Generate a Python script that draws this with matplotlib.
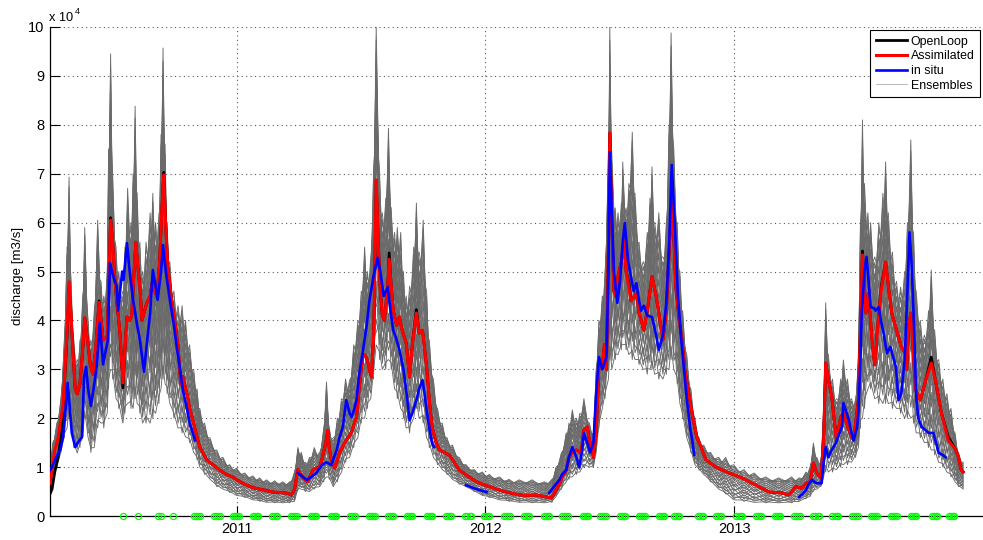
import numpy as np
import matplotlib
matplotlib.use("Agg")
import matplotlib.pyplot as plt
from matplotlib.ticker import FuncFormatter, MultipleLocator

plt.rcParams['font.family'] = ['Liberation Sans', 'DejaVu Sans']

# discharge in units of 1e4 m3/s, time in days since 2010-04-02
T0 = np.datetime64('2010-04-02')
SCALE = 1e4

assim_days = [0, 3, 7, 12, 16, 19, 22, 25, 28, 31,
              34, 37, 40, 44, 48, 51, 56, 59, 63, 67,
              72, 75, 78, 84, 86, 89, 92, 95, 98, 103,
              107, 110, 113, 117, 120, 123, 126, 129, 132, 135,
              139, 142, 147, 150, 154, 157, 161, 164, 167, 170,
              173, 177, 180, 185, 188, 192, 195, 199, 202, 205,
              210, 216, 220, 230, 239, 249, 259, 268, 279, 289,
              298, 308, 318, 327, 337, 347, 355, 359, 364, 368,
              372, 378, 383, 386, 391, 396, 400, 405, 408, 410,
              413, 418, 422, 425, 431, 435, 440, 443, 447, 450,
              454, 459, 462, 466, 469, 472, 475, 476, 479, 482,
              485, 488, 491, 496, 498, 501, 504, 509, 513, 517,
              523, 528, 532, 538, 542, 547, 553, 557, 561, 567,
              572, 579, 586, 591, 601, 611, 626, 645, 660, 670,
              689, 704, 714, 729, 736, 740, 743, 748, 752, 758,
              762, 767, 773, 780, 784, 789, 792, 795, 798, 802,
              806, 811, 814, 817, 820, 822, 825, 828, 831, 834,
              839, 843, 846, 850, 853, 861, 865, 872, 877, 884,
              890, 894, 900, 905, 909, 913, 916, 919, 924, 928,
              932, 938, 944, 950, 956, 963, 978, 997, 1016, 1041,
              1056, 1075, 1085, 1095, 1104, 1110, 1116, 1121, 1126, 1132,
              1136, 1139, 1143, 1148, 1152, 1155, 1161, 1165, 1173, 1180,
              1187, 1190, 1193, 1198, 1202, 1207, 1211, 1217, 1221, 1227,
              1231, 1236, 1243, 1250, 1256, 1258, 1261, 1264, 1267, 1271,
              1278, 1286, 1294, 1300, 1309, 1319, 1330, 1334, 1338, 1341]

assimilated = [0.67, 0.95, 1.35, 1.6, 2.0, 2.2, 3.0, 3.8, 4.79, 4.1,
               3.3, 2.6, 2.5, 2.7, 3.4, 4.05, 3.5, 3.1, 2.9, 3.4,
               4.37, 4.0, 3.6, 3.66, 4.6, 6.05, 5.6, 4.9, 4.4, 3.7,
               2.72, 3.4, 4.07, 4.0, 4.1, 4.9, 5.6, 5.1, 4.68, 4.0,
               4.2, 4.35, 4.5, 4.76, 4.6, 4.48, 5.2, 6.2, 6.97, 5.9,
               5.1, 4.6, 4.27, 3.8, 3.46, 2.7, 2.85, 2.6, 2.45, 2.2,
               1.95, 1.6, 1.41, 1.15, 1.05, 0.94, 0.85, 0.8, 0.7, 0.63,
               0.58, 0.55, 0.52, 0.49, 0.48, 0.47, 0.43, 0.55, 0.95, 0.85,
               0.78, 0.7, 0.85, 0.94, 0.98, 1.0, 1.2, 1.5, 1.75, 1.4,
               1.15, 0.98, 1.15, 1.29, 1.45, 1.55, 1.65, 1.72, 1.9, 2.02,
               2.6, 3.25, 3.3, 3.19, 3.0, 2.84, 3.6, 4.2, 6.87, 5.6,
               4.6, 4.1, 4.0, 4.7, 5.25, 4.7, 4.2, 3.9, 4.07, 3.8,
               3.54, 2.84, 3.5, 4.15, 3.74, 3.8, 3.05, 2.37, 1.82, 1.5,
               1.35, 1.3, 1.25, 1.15, 0.94, 0.84, 0.7, 0.6, 0.53, 0.49,
               0.43, 0.42, 0.43, 0.39, 0.37, 0.45, 0.53, 0.65, 0.8, 0.94,
               1.2, 1.3, 1.35, 1.29, 1.76, 1.82, 1.55, 1.41, 1.2, 1.7,
               3.05, 3.1, 3.5, 3.0, 5.5, 7.83, 6.0, 4.6, 4.5, 4.9,
               5.2, 5.64, 5.0, 4.68, 4.4, 4.56, 4.15, 3.8, 4.2, 4.9,
               4.5, 4.15, 3.6, 4.2, 5.38, 6.4, 5.7, 4.68, 4.0, 3.6,
               3.0, 2.5, 2.0, 1.6, 1.41, 1.15, 1.0, 0.88, 0.78, 0.6,
               0.49, 0.47, 0.43, 0.6, 0.57, 0.67, 0.7, 1.08, 0.88, 0.78,
               1.55, 3.13, 2.8, 2.43, 1.9, 1.55, 2.02, 2.1, 1.76, 1.55,
               2.37, 3.8, 5.34, 4.15, 4.56, 3.6, 3.09, 4.15, 4.66, 5.19,
               4.7, 4.15, 3.8, 3.46, 3.33, 3.0, 3.9, 4.15, 3.5, 2.58,
               2.37, 2.78, 3.13, 2.78, 2.1, 1.55, 1.35, 1.2, 0.94, 0.9]

openloop = [0.45, 0.55, 0.9, 1.2, 1.6, 2.1, 2.9, 3.7, 4.7, 4.05,
            3.3, 2.6, 2.5, 2.7, 3.4, 4.05, 3.5, 3.1, 2.9, 3.4,
            4.4, 4.0, 3.6, 3.66, 4.6, 6.1, 5.6, 4.9, 4.4, 3.7,
            2.62, 3.4, 4.07, 4.0, 4.1, 4.9, 5.6, 5.1, 4.68, 4.0,
            4.2, 4.35, 4.5, 4.76, 4.6, 4.48, 5.2, 6.2, 7.03, 5.9,
            5.1, 4.6, 4.27, 3.8, 3.46, 2.7, 2.85, 2.6, 2.45, 2.2,
            1.95, 1.6, 1.41, 1.15, 1.05, 0.94, 0.85, 0.8, 0.7, 0.63,
            0.58, 0.55, 0.52, 0.49, 0.48, 0.47, 0.43, 0.55, 0.95, 0.85,
            0.78, 0.7, 0.85, 0.94, 0.98, 1.0, 1.2, 1.5, 1.75, 1.4,
            1.15, 0.98, 1.15, 1.29, 1.45, 1.55, 1.65, 1.72, 1.9, 2.02,
            2.6, 3.25, 3.3, 3.19, 3.0, 2.84, 3.6, 4.2, 6.87, 5.6,
            4.6, 4.1, 4.0, 4.7, 5.38, 4.7, 4.2, 3.9, 4.07, 3.8,
            3.54, 2.84, 3.5, 4.22, 3.74, 3.8, 3.05, 2.37, 1.82, 1.5,
            1.35, 1.3, 1.25, 1.15, 0.94, 0.84, 0.7, 0.6, 0.53, 0.49,
            0.43, 0.42, 0.43, 0.39, 0.37, 0.45, 0.53, 0.65, 0.8, 0.94,
            1.2, 1.3, 1.35, 1.29, 1.76, 1.82, 1.55, 1.41, 1.2, 1.7,
            3.05, 3.1, 3.5, 3.0, 5.5, 7.83, 6.0, 4.6, 4.5, 4.9,
            5.2, 5.64, 5.0, 4.78, 4.4, 4.56, 4.15, 3.8, 4.2, 4.9,
            4.5, 4.15, 3.6, 4.2, 5.38, 6.4, 5.7, 4.68, 4.0, 3.6,
            3.0, 2.5, 2.0, 1.6, 1.41, 1.15, 1.0, 0.88, 0.78, 0.6,
            0.49, 0.47, 0.43, 0.6, 0.57, 0.67, 0.7, 1.08, 0.88, 0.78,
            1.55, 3.13, 2.8, 2.43, 1.9, 1.55, 2.02, 2.1, 1.76, 1.55,
            2.37, 3.8, 5.42, 4.15, 4.56, 3.6, 3.09, 4.15, 4.72, 5.19,
            4.7, 4.15, 3.8, 3.46, 3.33, 3.0, 3.9, 4.15, 3.5, 2.58,
            2.37, 2.78, 3.25, 2.78, 2.1, 1.62, 1.35, 1.2, 0.94, 0.9]

nan = np.nan
insitu_days = [0, 3, 9, 15, 19, 23, 26, 29, 32, 37,
               41, 47, 50, 53, 56, 60, 65, 69, 73, 78,
               82, 85, 88, 91, 95, 98, 100, 103, 106, 108,
               113, 117, 122, 128, 132, 138, 142, 147, 151, 155,
               158, 163, 166, 170, 176, 182, 186, 191, 195, 201,
               205, 213, 250, 364, 371, 377, 384, 391, 399, 406,
               413, 421, 425, 430, 435, 440, 443, 447, 450, 454,
               459, 465, 469, 475, 481, 485, 490, 496, 500, 504,
               509, 513, 519, 523, 528, 532, 538, 542, 547, 550,
               553, 557, 561, 564, 590, 611, 626, 641, 700, 733,
               740, 748, 752, 758, 762, 767, 773, 777, 781, 784,
               789, 793, 798, 802, 806, 811, 817, 820, 822, 825,
               828, 833, 837, 841, 844, 849, 853, 857, 861, 865,
               868, 872, 877, 884, 890, 894, 900, 905, 909, 913,
               918, 922, 927, 931, 935, 940, 943, 946, 1000, 1100,
               1105, 1110, 1114, 1119, 1124, 1129, 1133, 1136, 1139, 1143,
               1148, 1154, 1158, 1163, 1165, 1170, 1173, 1177, 1180, 1185,
               1187, 1190, 1192, 1196, 1199, 1202, 1205, 1210, 1212, 1217,
               1220, 1224, 1229, 1234, 1239, 1242, 1246, 1250, 1255, 1259,
               1262, 1265, 1268, 1272, 1275, 1280, 1286, 1290, 1297, 1302,
               1305, 1311, 1315]

insitu = [0.94, 1.0, 1.2, 1.35, 1.6, 2.2, 2.72, 2.2, 1.7, 1.41,
          1.5, 1.62, 2.84, 3.05, 2.6, 2.25, 2.7, 3.1, 3.95, 3.1,
          3.4, 3.6, 5.17, 5.0, 4.8, 4.7, 4.2, 4.6, 5.0, 4.83,
          5.58, 5.0, 4.42, 3.9, 3.6, 2.95, 3.5, 4.15, 5.03, 4.7,
          4.42, 5.0, 5.54, 5.0, 4.42, 3.9, 3.46, 3.0, 2.58, 2.2,
          1.9, 1.55, nan, 0.88, 0.8, 0.74, 0.8, 0.88, 1.04, 1.1,
          1.04, 1.35, 1.6, 1.82, 2.37, 2.1, 2.02, 2.2, 2.37, 2.9,
          3.33, 3.9, 4.4, 4.9, 5.28, 5.0, 4.5, 4.68, 4.2, 3.8,
          3.6, 3.4, 3.0, 2.58, 1.96, 2.1, 2.37, 2.6, 2.78, 2.5,
          2.17, 1.8, 1.49, 1.41, nan, 0.63, 0.55, 0.49, nan, 0.47,
          0.6, 0.74, 0.85, 0.94, 1.2, 1.41, 1.2, 1.0, 1.3, 1.7,
          1.49, 1.3, 1.5, 2.5, 3.25, 3.0, 3.25, 5.0, 7.44, 6.2,
          5.0, 4.36, 4.8, 5.6, 5.99, 5.2, 4.9, 4.6, 4.76, 4.4,
          4.2, 4.3, 4.1, 4.07, 3.7, 3.4, 3.7, 4.36, 5.5, 7.18,
          5.8, 4.5, 3.6, 3.0, 2.4, 1.8, 1.55, 1.25, nan, 0.39,
          0.45, 0.53, 0.65, 0.74, 0.68, 0.67, 0.67, 1.1, 1.41, 1.2,
          1.35, 1.49, 1.65, 1.82, 2.31, 2.1, 1.96, 1.7, 1.55, 1.8,
          2.1, 3.2, 4.15, 5.0, 5.3, 4.8, 4.27, 4.25, 4.2, 4.27,
          4.0, 3.74, 3.33, 3.46, 3.2, 3.05, 2.37, 2.5, 3.2, 4.6,
          5.8, 5.2, 4.15, 2.43, 2.0, 1.82, 1.75, 1.7, 1.7, 1.45,
          1.29, 1.25, 1.2]

# ensemble spread: lower and upper bound of the members
ens_days = [0, 4, 10, 16, 21, 25, 28, 31, 35, 40,
            44, 48, 51, 56, 60, 65, 70, 75, 79, 84,
            86, 89, 92, 97, 101, 107, 110, 114, 119, 122,
            125, 128, 132, 136, 141, 147, 151, 155, 160, 163,
            166, 169, 172, 176, 182, 188, 194, 199, 205, 211,
            216, 220, 227, 235, 245, 254, 264, 274, 286, 298,
            308, 318, 330, 342, 352, 359, 364, 369, 375, 381,
            388, 396, 402, 406, 410, 416, 422, 428, 434, 440,
            446, 452, 457, 462, 466, 471, 475, 479, 484, 488,
            493, 497, 501, 506, 510, 515, 519, 523, 528, 534,
            538, 542, 548, 553, 557, 563, 569, 576, 583, 591,
            601, 611, 623, 635, 645, 660, 674, 689, 708, 726,
            737, 743, 751, 758, 762, 767, 773, 778, 784, 792,
            798, 802, 806, 811, 815, 820, 822, 825, 830, 834,
            839, 841, 846, 850, 855, 859, 865, 871, 877, 881,
            884, 888, 894, 900, 905, 909, 912, 916, 921, 925,
            929, 935, 941, 947, 953, 960, 970, 982, 992, 1004,
            1019, 1034, 1051, 1070, 1089, 1100, 1110, 1116, 1121, 1126,
            1132, 1136, 1139, 1143, 1149, 1155, 1161, 1165, 1171, 1177,
            1183, 1187, 1190, 1193, 1196, 1201, 1205, 1211, 1217, 1223,
            1227, 1231, 1237, 1243, 1249, 1255, 1259, 1264, 1268, 1272,
            1278, 1284, 1290, 1294, 1299, 1305, 1311, 1317, 1323, 1329,
            1334, 1341]

ens_low = [0.45, 0.8, 1.0, 1.3, 1.6, 1.8, 2.0, 1.8, 1.4, 1.29,
           1.4, 1.6, 2.0, 1.6, 1.3, 1.4, 1.8, 1.9, 1.8, 2.1,
           2.6, 3.0, 2.8, 2.4, 2.2, 1.9, 2.1, 2.3, 2.2, 2.2,
           2.4, 2.3, 2.1, 1.9, 1.9, 1.9, 2.0, 2.1, 2.3, 2.6,
           2.8, 2.7, 2.5, 2.3, 2.0, 1.8, 1.7, 1.62, 1.5, 1.3,
           1.15, 1.0, 0.85, 0.75, 0.6, 0.55, 0.48, 0.42, 0.38, 0.33,
           0.3, 0.28, 0.27, 0.27, 0.27, 0.3, 0.53, 0.55, 0.5, 0.5,
           0.55, 0.6, 0.7, 0.8, 0.75, 0.6, 0.7, 0.9, 1.1, 1.2,
           1.4, 1.6, 1.9, 2.0, 2.2, 2.4, 2.8, 3.5, 3.2, 3.0,
           3.0, 3.2, 3.0, 2.6, 2.4, 2.2, 2.0, 1.8, 1.7, 2.0,
           2.2, 2.0, 1.9, 1.6, 1.4, 1.2, 1.05, 0.95, 0.85, 0.75,
           0.65, 0.6, 0.5, 0.42, 0.38, 0.33, 0.3, 0.28, 0.27, 0.27,
           0.28, 0.4, 0.55, 0.7, 0.75, 0.8, 0.85, 0.9, 1.0, 1.0,
           1.0, 1.3, 1.8, 2.2, 2.4, 2.8, 3.2, 3.0, 3.2, 3.3,
           3.4, 3.5, 3.4, 3.3, 3.2, 3.2, 3.1, 3.0, 2.9, 3.0,
           3.0, 2.9, 2.8, 2.8, 2.9, 3.0, 3.2, 3.0, 2.7, 2.3,
           2.0, 1.6, 1.3, 1.05, 0.94, 0.85, 0.7, 0.55, 0.45, 0.33,
           0.3, 0.28, 0.27, 0.27, 0.27, 0.3, 0.35, 0.4, 0.5, 0.55,
           0.6, 0.8, 0.9, 0.9, 0.9, 0.95, 1.0, 1.05, 1.05, 1.1,
           1.2, 1.4, 1.8, 2.0, 2.2, 2.6, 2.6, 2.4, 2.3, 2.3,
           2.3, 2.3, 2.2, 2.2, 2.1, 2.0, 2.0, 2.0, 1.9, 1.7,
           1.6, 1.5, 1.4, 1.35, 1.25, 1.1, 1.0, 0.9, 0.8, 0.7,
           0.6, 0.55]

ens_high = [0.9, 1.5, 1.9, 2.4, 3.6, 5.5, 6.93, 4.8, 3.6, 3.2,
            3.6, 4.5, 5.9, 4.0, 3.6, 4.2, 6.05, 4.8, 4.5, 5.0,
            7.5, 9.45, 7.0, 5.5, 5.0, 4.6, 5.5, 6.7, 6.0, 7.0,
            8.38, 6.6, 5.6, 5.0, 5.6, 6.2, 6.6, 6.0, 6.2, 7.8,
            9.57, 7.6, 6.0, 5.2, 4.6, 4.3, 4.3, 4.0, 3.5, 3.0,
            2.6, 2.2, 1.9, 1.6, 1.35, 1.2, 1.05, 0.98, 0.88, 0.82,
            0.78, 0.74, 0.72, 0.7, 0.7, 0.9, 1.4, 1.3, 1.1, 1.2,
            1.4, 1.3, 1.8, 2.74, 1.8, 1.6, 2.0, 2.4, 2.8, 2.78,
            3.5, 4.0, 4.6, 5.5, 5.0, 5.3, 7.0, 10.0, 7.0, 6.2,
            6.5, 7.93, 6.3, 5.8, 5.9, 5.8, 5.0, 4.5, 4.7, 5.5,
            6.4, 5.4, 6.05, 4.6, 3.6, 2.8, 2.2, 1.9, 1.6, 1.45,
            1.2, 1.05, 0.95, 0.9, 0.85, 0.8, 0.75, 0.74, 0.74, 0.7,
            0.75, 1.0, 1.3, 1.7, 1.9, 2.17, 2.0, 2.1, 2.4, 1.9,
            1.7, 3.0, 4.0, 4.5, 5.0, 7.5, 10.0, 7.4, 6.3, 6.2,
            6.4, 7.24, 6.3, 6.8, 7.85, 6.6, 5.6, 5.2, 5.8, 6.5,
            7.14, 6.0, 6.2, 5.3, 6.0, 8.0, 9.88, 7.5, 6.0, 5.0,
            4.2, 3.3, 2.6, 2.0, 1.6, 1.45, 1.3, 1.2, 1.2, 1.05,
            0.95, 0.88, 0.8, 0.78, 0.8, 0.78, 0.9, 1.0, 1.49, 1.2,
            1.1, 2.2, 4.36, 3.3, 2.8, 2.4, 2.8, 3.19, 2.8, 2.4,
            2.4, 3.3, 6.0, 8.1, 6.8, 6.2, 6.0, 5.3, 6.0, 6.6,
            7.24, 6.2, 5.4, 4.8, 4.68, 5.0, 6.0, 7.69, 5.8, 4.6,
            4.0, 3.7, 4.2, 5.03, 3.8, 3.2, 2.8, 2.5, 2.2, 1.7,
            1.3, 1.1]

# relative position of each member inside the spread (even / odd dates)
ens_pos_even = [0.00, 0.04, 0.08, 0.12, 0.16, 0.20, 0.24, 0.28, 0.32, 0.36,
                0.40, 0.44, 0.48, 0.52, 0.56, 0.60, 0.64, 0.68, 0.72, 0.76,
                0.80, 0.84, 0.88, 0.92, 0.96, 1.00]
ens_pos_odd = [0.20, 0.00, 0.32, 0.08, 0.44, 0.04, 0.52, 0.16, 0.64, 0.12,
               0.72, 0.28, 0.80, 0.24, 0.88, 0.36, 0.96, 0.40, 1.00, 0.48,
               0.92, 0.56, 0.84, 0.60, 0.76, 0.68]

# dates with satellite altimetry observations
obs_days = [107, 129, 158, 163, 180,
            212, 215, 218, 220, 241, 244, 247, 249, 269, 272, 275, 277,
            298, 301, 304, 306, 326, 329, 332, 334, 354, 357, 360, 362,
            383, 386, 389, 391, 412, 415, 418, 420, 440, 443, 446, 448,
            469, 472, 475, 477, 496, 499, 502, 504, 524, 527, 530, 532,
            553, 556, 559, 561, 581, 584, 587, 589, 610, 613, 616, 618,
            637, 640, 643, 645, 667, 670, 673, 675, 696, 699, 702, 704,
            725, 728, 731, 733, 752, 755, 758, 760, 782, 785, 788, 790,
            808, 811, 814, 816, 837, 840, 843, 845, 865, 868, 871, 873,
            894, 897, 900, 902, 916, 919, 922, 924, 951, 954, 957, 959,
            978, 981, 984, 986, 1008, 1011, 1014, 1016, 1036, 1039, 1042, 1044,
            1064, 1067, 1070, 1072, 1093, 1096, 1099, 1101, 1121, 1124, 1127, 1129,
            1149, 1152, 1155, 1157, 1178, 1181, 1184, 1186, 1206, 1209, 1212, 1214,
            1235, 1238, 1241, 1243, 1264, 1267, 1270, 1272, 1295, 1298, 1301, 1303,
            1320, 1323, 1326, 1328]

year_ticks = ['2011-01-01', '2012-01-01', '2013-01-01']
year_labels = ['2011', '2012', '2013']


def to_dates(days):
    return T0 + np.array(days).astype('timedelta64[D]')


fig = plt.figure(figsize=(9.83, 5.40), dpi=100)
ax = fig.add_axes([50 / 983, 24 / 540, 933 / 983, 489 / 540])

# ensemble members
t_ens = to_dates(ens_days)
lo = np.array(ens_low)
hi = np.array(ens_high)
even = (np.arange(len(ens_days)) % 2) == 0
for pe, po in zip(ens_pos_even, ens_pos_odd):
    member = lo + np.where(even, pe, po) * (hi - lo)
    ens_line, = ax.plot(t_ens, member * SCALE, color='#6a6a6a', lw=0.65, zorder=1)

ol_line, = ax.plot(to_dates(assim_days), np.array(openloop) * SCALE,
                   color='k', lw=2.0, zorder=2)
as_line, = ax.plot(to_dates(assim_days), np.array(assimilated) * SCALE,
                   color='r', lw=2.2, zorder=3)
is_line, = ax.plot(to_dates(insitu_days), np.array(insitu) * SCALE,
                   color='b', lw=1.9, zorder=4)

ax.plot(to_dates(obs_days), np.zeros(len(obs_days)), 'o', ms=4.4,
        mfc='none', mec=(0, 1, 0), mew=0.9, clip_on=False, zorder=5)

ax.set_xlim(np.datetime64('2010-04-02'), np.datetime64('2014-01-01'))
ax.set_ylim(0, 10 * SCALE)
ax.yaxis.set_major_locator(MultipleLocator(SCALE))
ax.yaxis.set_major_formatter(FuncFormatter(lambda v, p: '%d' % round(v / SCALE)))
ax.set_xticks([np.datetime64(d) for d in year_ticks])
ax.set_xticklabels(year_labels)

for s in ['top', 'right']:
    ax.spines[s].set_visible(False)
for s in ['left', 'bottom']:
    ax.spines[s].set_linewidth(0.9)
ax.tick_params(direction='in', length=7, width=0.8, labelsize=10.5)
ax.tick_params(axis='x', pad=4)
ax.tick_params(axis='y', pad=4)
ax.grid(True, linestyle=(0, (1, 3)), color='0.35', lw=0.8)
ax.set_axisbelow(True)

ax.set_ylabel('discharge [m3/s]', fontsize=9.6)
ax.yaxis.set_label_coords(-0.028, 0.49)

# exponent of the y axis
fig.text(49 / 983, 1 - 18 / 540, 'x 10', fontsize=9.2, va='center', ha='left')
fig.text(74.5 / 983, 1 - 11 / 540, '4', fontsize=6.5, va='center', ha='left')

leg = ax.legend([ol_line, as_line, is_line, ens_line],
                ['OpenLoop', 'Assimilated', 'in situ', 'Ensembles'],
                loc='upper right', bbox_to_anchor=(980 / 983, 1 - 30 / 540),
                bbox_transform=fig.transFigure, borderaxespad=0,
                fontsize=8.9, handlelength=2.5, handletextpad=0.3,
                labelspacing=0.22, borderpad=0.45, fancybox=False,
                framealpha=1, edgecolor='k')
leg.get_frame().set_linewidth(0.8)
leg.legend_handles[3].set_color('0.7')

fig.savefig('out.png', dpi=100)
